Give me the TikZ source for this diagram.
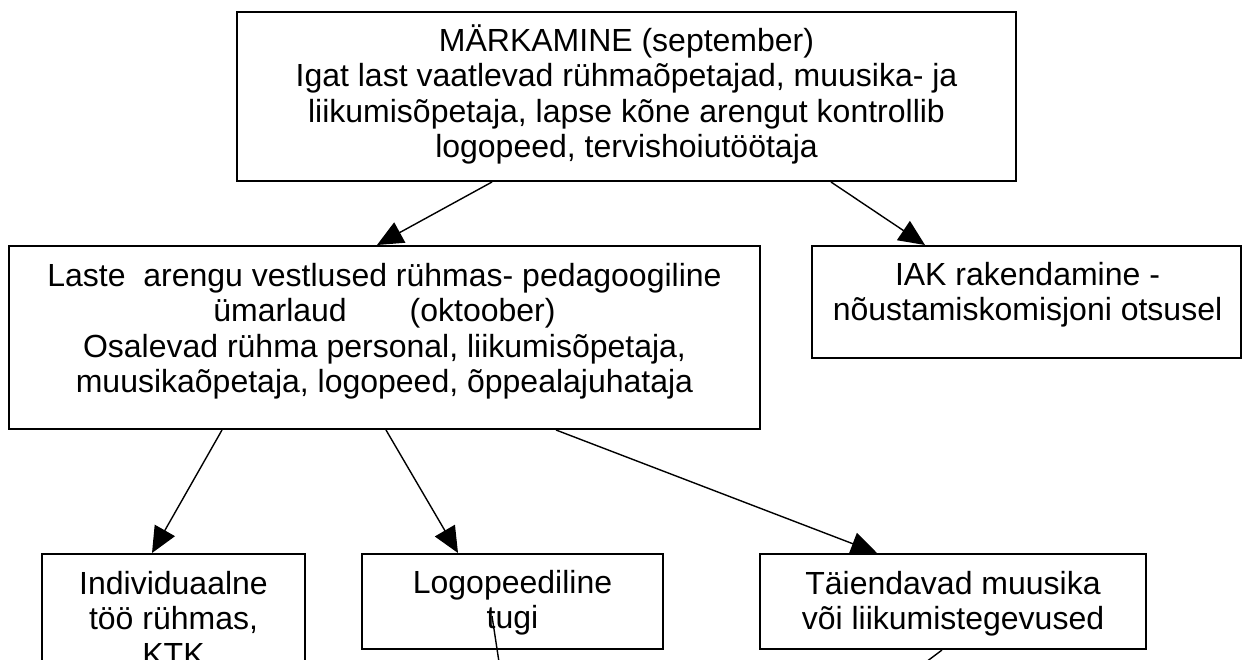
\documentclass[tikz,border=0pt]{standalone}
\usepackage{fontspec}
\setmainfont{Liberation Sans}
\usetikzlibrary{arrows.meta,calc}
\begin{document}
\begin{tikzpicture}[x=1pt,y=-1pt,
  box/.style={draw=black,line width=2pt,fill=white,rectangle,inner sep=0pt},
  txt/.style={anchor=north,inner sep=0pt,align=center,font=\fontsize{32}{35.5}\selectfont},
  conn/.style={line width=1.4pt,-{Triangle[length=26pt,width=23pt]}},
  plainline/.style={line width=1.4pt}]
\useasboundingbox (0,0) rectangle (1245,659);
\clip (0,0) rectangle (1245,659);
\fill[white] (0,0) rectangle (1245,659);

% boxes
\node[box,minimum width=779pt,minimum height=169pt] (top) at (626.5,96.5) {};
\node[box,minimum width=751pt,minimum height=183pt] (laste) at (384.5,337.5) {};
\node[box,minimum width=429pt,minimum height=112pt] (iak) at (1026.5,302) {};
\node[box,minimum width=263pt,minimum height=166pt] (indiv) at (173.5,637) {};
\node[box,minimum width=301pt,minimum height=95pt] (logo) at (512.5,601.5) {};
\node[box,minimum width=386pt,minimum height=95pt] (tai) at (953,601.5) {};

% texts
\node[txt] (topT) at ($(top.north)+(0,10)$) {\rule{0pt}{30pt}MÄRKAMINE (september)\\Igat last vaatlevad rühmaõpetajad, muusika- ja\\liikumisõpetaja, lapse kõne arengut kontrollib\\logopeed, tervishoiutöötaja};
\node[txt] (lasteT) at ($(laste.north)+(0,11)$) {\rule{0pt}{30pt}Laste\ \ arengu vestlused rühmas- pedagoogiline\\ümarlaud\hspace*{63pt}(oktoober)\\Osalevad rühma personal, liikumisõpetaja,\\muusikaõpetaja, logopeed, õppealajuhataja};
\node[txt] (iakT) at ($(iak.north)+(1,10)$) {\rule{0pt}{30pt}IAK rakendamine -\\nõustamiskomisjoni otsusel};
\node[txt] (indivT) at ($(indiv.north)+(0,11)$) {\rule{0pt}{30pt}Individuaalne\\töö rühmas,\\KTK};
\node[txt] (logoT) at ($(logo.north)+(0,10)$) {\rule{0pt}{30pt}Logopeediline\\tugi};
\node[txt] (taiT) at ($(tai.north)+(0,11)$) {\rule{0pt}{30pt}Täiendavad muusika\\või liikumistegevused};

% connectors
\draw[conn] ($(top.south west)+(256,0)$) -- ($(laste.north west)+(369,0)$);
\draw[conn] ($(top.south west)+(595,0)$) -- ($(iak.north west)+(114,0)$);
\draw[conn] ($(laste.south west)+(214,0)$) -- ($(indiv.north west)+(111,0)$);
\draw[conn] ($(laste.south west)+(378,0)$) -- ($(logo.north west)+(97,0)$);
\draw[conn] ($(laste.south west)+(548,0)$) -- ($(tai.north west)+(118,0)$);

\coordinate (c1) at (499,662);
\coordinate (c2) at (926,662);
\draw[plainline] ($(logo.north west)+(131,63)$) -- (c1);
\draw[plainline] ($(tai.south west)+(183,0)$) -- (c2);
\end{tikzpicture}
\end{document}
